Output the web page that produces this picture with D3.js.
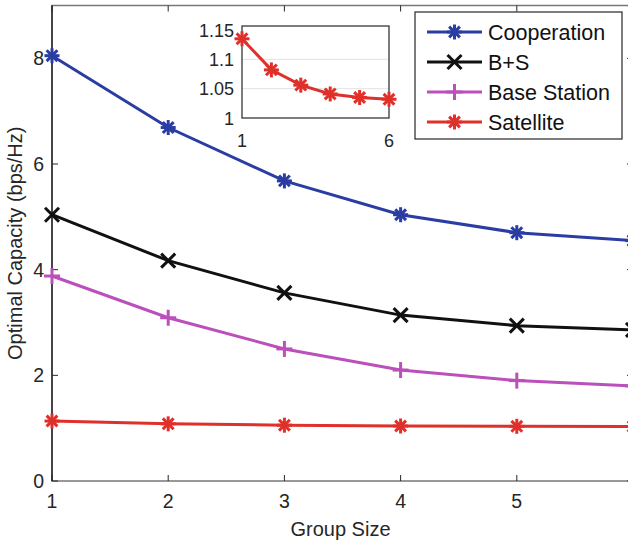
<!DOCTYPE html>
<html>
<head>
<meta charset="utf-8">
<script src="https://cdn.jsdelivr.net/npm/d3@7"></script>
<style>
  body { margin: 0; background: #fff; overflow: hidden; }
  text { font-family: "Liberation Sans", Arial, sans-serif; }
</style>
</head>
<body>
<div id="chart"></div>
<script>
// Data
const groupSizes = [1, 2, 3, 4, 5, 6];
const cooperation = [8.05, 6.69, 5.68, 5.04, 4.70, 4.55];
const bPlusS = [5.04, 4.17, 3.56, 3.14, 2.94, 2.86];
const baseStation = [3.88, 3.09, 2.50, 2.10, 1.90, 1.80];
const satellite = [1.135, 1.082, 1.056, 1.041, 1.035, 1.032];
const yTicks = [0, 2, 4, 6, 8];
const insetYTicks = [1, 1.05, 1.1, 1.15];
const insetYLabels = ["1", "1.05", "1.1", "1.15"];

const series = [
  {name: "Cooperation", values: cooperation, color: "#2b3da3", marker: "star"},
  {name: "B+S", values: bPlusS, color: "#111111", marker: "x"},
  {name: "Base Station", values: baseStation, color: "#bb4fbb", marker: "plus"},
  {name: "Satellite", values: satellite, color: "#e0302a", marker: "star"}
];
const markerSize = {star: 15, x: 14, plus: 16};

const W = 628, H = 544;
const plot = {left: 52, right: 633, top: 5.5, bottom: 481};
const textColor = "#262626";
const edgeColor = "#777";

const svg = d3.select("#chart").append("svg")
    .attr("width", W)
    .attr("height", H);

const x = d3.scaleLinear().domain([1, 6]).range([plot.left, plot.right]);
const y = d3.scaleLinear().domain([0, 9]).range([plot.bottom, plot.top]);

// draw a marker of given type at (cx, cy)
function drawMarker(g, type, cx, cy, color) {
  const s = markerSize[type] / 2;
  const m = g.append("g").attr("transform", `translate(${cx},${cy})`)
      .attr("stroke", color).attr("stroke-width", 3).attr("fill", "none");
  if (type === "plus" || type === "star") {
    m.append("line").attr("x1", -s).attr("x2", s).attr("y1", 0).attr("y2", 0);
    m.append("line").attr("x1", 0).attr("x2", 0).attr("y1", -s).attr("y2", s);
  }
  if (type === "x" || type === "star") {
    const d = type === "x" ? s : s * 0.72;
    m.append("line").attr("x1", -d).attr("x2", d).attr("y1", -d).attr("y2", d);
    m.append("line").attr("x1", -d).attr("x2", d).attr("y1", d).attr("y2", -d);
  }
}

// Axes box: top/right/bottom a bit lighter, left axis dark
svg.append("rect")
    .attr("x", plot.left).attr("y", plot.top)
    .attr("width", plot.right - plot.left).attr("height", plot.bottom - plot.top)
    .attr("fill", "none").attr("stroke", edgeColor).attr("stroke-width", 1.5);
svg.append("line")
    .attr("x1", plot.left).attr("x2", plot.left).attr("y1", plot.top).attr("y2", plot.bottom)
    .attr("stroke", "#1a1a1a").attr("stroke-width", 1.3);

// ticks (inward, on all sides)
groupSizes.forEach(function(v) {
  svg.append("line").attr("x1", x(v)).attr("x2", x(v)).attr("y1", plot.bottom).attr("y2", plot.bottom - 6)
      .attr("stroke", textColor);
  svg.append("line").attr("x1", x(v)).attr("x2", x(v)).attr("y1", plot.top).attr("y2", plot.top + 6)
      .attr("stroke", textColor);
  svg.append("text").attr("x", x(v)).attr("y", plot.bottom + 27)
      .attr("text-anchor", "middle").attr("font-size", 19.5).attr("fill", textColor)
      .text(v);
});
yTicks.forEach(function(v) {
  svg.append("line").attr("x1", plot.left).attr("x2", plot.left + 6).attr("y1", y(v)).attr("y2", y(v))
      .attr("stroke", textColor);
  svg.append("line").attr("x1", plot.right).attr("x2", plot.right - 6).attr("y1", y(v)).attr("y2", y(v))
      .attr("stroke", textColor);
  svg.append("text").attr("x", plot.left - 8).attr("y", y(v) + 7)
      .attr("text-anchor", "end").attr("font-size", 19.5).attr("fill", textColor)
      .text(v);
});

// axis titles
svg.append("text")
    .attr("x", (plot.left + plot.right) / 2 - 2).attr("y", 536)
    .attr("text-anchor", "middle").attr("font-size", 20).attr("fill", textColor)
    .text("Group Size");
svg.append("text")
    .attr("transform", "rotate(-90)")
    .attr("x", -(plot.top + plot.bottom) / 2).attr("y", 22)
    .attr("text-anchor", "middle").attr("font-size", 20).attr("fill", textColor)
    .text("Optimal Capacity (bps/Hz)");

// series lines and markers
const line = d3.line()
    .x((d, i) => x(groupSizes[i]))
    .y(d => y(d));

series.forEach(function(s) {
  svg.append("path")
      .datum(s.values)
      .attr("fill", "none")
      .attr("stroke", s.color)
      .attr("stroke-width", 3)
      .attr("d", line);
  s.values.forEach(function(v, i) {
    drawMarker(svg, s.marker, x(groupSizes[i]), y(v), s.color);
  });
});

// Inset
const inBox = {left: 242, right: 389, top: 26, bottom: 118};
const ix = d3.scaleLinear().domain([1, 6]).range([inBox.left, inBox.right]);
const iy = d3.scaleLinear().domain([1, 1.15]).range([inBox.bottom, 30]);
const inset = svg.append("g");
inset.append("rect")
    .attr("x", inBox.left).attr("y", inBox.top)
    .attr("width", inBox.right - inBox.left).attr("height", inBox.bottom - inBox.top)
    .attr("fill", "#fff");
[1.05, 1.1].forEach(function(v) {
  inset.append("line").attr("x1", inBox.left).attr("x2", inBox.right).attr("y1", iy(v)).attr("y2", iy(v))
      .attr("stroke", "#e3e3e3").attr("stroke-width", 1);
});
inset.append("rect")
    .attr("x", inBox.left).attr("y", inBox.top)
    .attr("width", inBox.right - inBox.left).attr("height", inBox.bottom - inBox.top)
    .attr("fill", "none").attr("stroke", textColor).attr("stroke-width", 1.2);
insetYTicks.forEach(function(v, i) {
  inset.append("text").attr("x", 234).attr("y", iy(v) + 6.5)
      .attr("text-anchor", "end").attr("font-size", 18).attr("fill", textColor)
      .text(insetYLabels[i]);
});
[1, 6].forEach(function(v) {
  inset.append("text").attr("x", ix(v)).attr("y", 147)
      .attr("text-anchor", "middle").attr("font-size", 18).attr("fill", textColor)
      .text(v);
});
const insetLine = d3.line()
    .x((d, i) => ix(groupSizes[i]))
    .y(d => iy(d));
inset.append("path")
    .datum(satellite)
    .attr("fill", "none")
    .attr("stroke", series[3].color)
    .attr("stroke-width", 3)
    .attr("d", insetLine);
satellite.forEach(function(v, i) {
  drawMarker(inset, "star", ix(groupSizes[i]), iy(v), series[3].color);
});

// Legend
const legend = svg.append("g");
legend.append("rect")
    .attr("x", 415).attr("y", 12).attr("width", 207).attr("height", 127)
    .attr("fill", "#fff").attr("stroke", textColor).attr("stroke-width", 1.2);
series.forEach(function(s, i) {
  const ly = 32 + i * 30;
  legend.append("line")
      .attr("x1", 427).attr("x2", 482).attr("y1", ly).attr("y2", ly)
      .attr("stroke", s.color).attr("stroke-width", 3);
  drawMarker(legend, s.marker, 454.5, ly, s.color);
  legend.append("text")
      .attr("x", 488).attr("y", ly + 7.5)
      .attr("font-size", 21.5).attr("fill", "#111")
      .text(s.name);
});
</script>
</body>
</html>
